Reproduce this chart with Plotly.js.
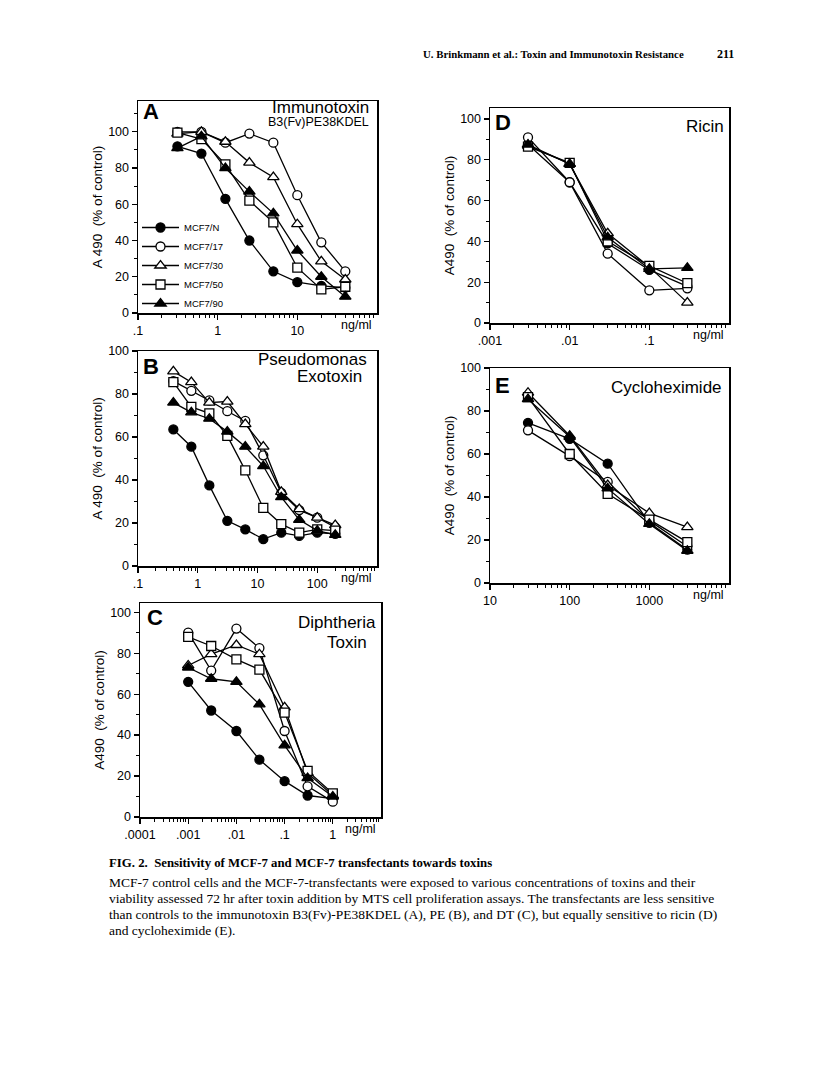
<!DOCTYPE html>
<html>
<head>
<meta charset="utf-8">
<script src="https://cdn.plot.ly/plotly-3.0.1.min.js"></script>
<style>
  html, body { margin: 0; padding: 0; background: #fff; }
  #plot { width: 816px; height: 1088px; }
</style>
</head>
<body>
<div id="plot"></div>
<script>
// ----- data -----
const lines = ['MCF7/N', 'MCF7/17', 'MCF7/30', 'MCF7/50', 'MCF7/90'];

// A: Immunotoxin B3(Fv)PE38KDEL
const dosesA = [0.3125, 0.625, 1.25, 2.5, 5, 10, 20, 40];
const itN  = [92, 88, 63, 40, 23, 17, 15, 14];
const it17 = [100, 100, 94, 99, 94, 65, 39, 23];
const it30 = [99, 100, 94.5, 83, 75, 49, 28.5, 18.5];
const it50 = [99.5, 96, 82, 62, 50, 25, 13, 14.5];
const it90 = [91, 97.5, 80, 67, 55, 34.5, 20, 9];

// B: Pseudomonas exotoxin
const dosesB = [0.390625, 0.78125, 1.5625, 3.125, 6.25, 12.5, 25, 50, 100, 200];
const peN  = [63.5, 55.5, 37.5, 21, 17, 12.5, 15.5, 14, 15.5, 15];
const pe17 = [86, 81.5, 77, 72, 67.5, 51.5, 34, 26, 22.5, 18];
const pe30 = [90.5, 85.5, 76, 76.5, 66, 55.5, 34.5, 26.5, 22.5, 19];
const pe50 = [85.5, 74, 71, 60.5, 44.5, 27, 19.5, 15.5, 17, 16.5];
const pe90 = [76, 71.5, 68.5, 62.5, 55.5, 46.5, 32, 21.5, 16.5, 14.5];

// C: Diphtheria toxin
const dosesC = [0.001, 0.003, 0.01, 0.03, 0.1, 0.3, 1];
const dtN  = [66, 52, 42, 28, 17.5, 10.5, 9];
const dt17 = [90, 71.5, 92, 82.5, 42, 15, 7.5];
const dt30 = [74, 79.5, 84, 79.5, 53.5, 21.5, 10.5];
const dt50 = [88, 83.5, 77, 72, 51, 22.5, 11.5];
const dt90 = [73, 67.5, 66, 55, 35, 19, 10];

// D: Ricin
const dosesD = [0.003, 0.01, 0.03, 0.1, 0.3];
const riN  = [87.5, 69, 39, 26, 18];
const ri17 = [91, 69, 34, 16, 17];
const ri30 = [87, 78, 44, 27.5, 10];
const ri50 = [86.5, 78.5, 40, 28, 19.5];
const ri90 = [87.5, 78, 42, 26.5, 27];

// E: Cycloheximide
const dosesE = [30, 100, 300, 1000, 3000];
const chN  = [74.5, 67, 55.5, 28, 15.5];
const ch17 = [71, 59, 47, 29, 17];
const ch30 = [88.5, 68.5, 45.5, 32.5, 26];
const ch50 = [86.5, 60, 41.5, 29.5, 19];
const ch90 = [85.5, 68, 44, 27.5, 15];

// tick labels
const ticksA = { vals: [0.1, 1, 10], text: ['.1', '1', '10'] };
const ticksB = { vals: [0.1, 1, 10, 100], text: ['.1', '1', '10', '100'] };
const ticksC = { vals: [0.0001, 0.001, 0.01, 0.1, 1], text: ['.0001', '.001', '.01', '.1', '1'] };
const ticksD = { vals: [0.001, 0.01, 0.1], text: ['.001', '.01', '.1'] };
const ticksE = { vals: [10, 100, 1000], text: ['10', '100', '1000'] };

// ----- layout helpers -----
const W = 816, H = 1088;
const px = (x) => x / W;
const py = (y) => 1 - y / H;
const SANS = 'Liberation Sans, Arial, sans-serif';
const SERIF = 'Liberation Serif, Times New Roman, serif';

// marker style per cell line: symbol + filled/open
const styles = [
  { symbol: 'circle', fill: '#000' },
  { symbol: 'circle', fill: '#fff' },
  { symbol: 'triangle-up', fill: '#fff' },
  { symbol: 'square', fill: '#fff' },
  { symbol: 'triangle-up', fill: '#000' },
];

function panelTraces(n, doses, series, legend) {
  return series.map((ys, i) => ({
    x: doses, y: ys, xaxis: 'x' + (n > 1 ? n : ''), yaxis: 'y' + (n > 1 ? n : ''),
    type: 'scatter', mode: 'lines+markers', name: lines[i],
    showlegend: legend, legendgroup: 'g' + i,
    line: { color: '#000', width: 1.3 },
    marker: {
      symbol: styles[i].symbol, color: styles[i].fill,
      size: styles[i].symbol === 'triangle-up' ? 10 : 9,
      line: { color: '#000', width: 1.3 }
    },
    cliponaxis: false
  }));
}

function minorLog(lo, hi) {
  const out = [];
  for (let d = lo; d < hi; d++)
    for (let k = 2; k <= 9; k++) out.push(k * 10 ** d);
  return out;
}

function xAxis(left, right, lo, hi, ticks, anchor) {
  return {
    type: 'log', domain: [px(left), px(right)], range: [lo, hi], anchor,
    tickmode: 'array', tickvals: ticks.vals, ticktext: ticks.text,
    ticks: 'outside', ticklen: 5, tickwidth: 1.2, tickcolor: '#000',
    minor: { tickmode: 'array', tickvals: minorLog(lo, hi), ticks: 'outside', ticklen: 3, tickwidth: 1, tickcolor: '#000', showgrid: false },
    showline: true, linecolor: '#000', linewidth: 1.5, mirror: true,
    showgrid: false, zeroline: false,
    tickfont: { family: SANS, size: 12.5, color: '#000' }
  };
}

function yAxis(top, bottom, hi, title, anchor) {
  return {
    domain: [py(bottom), py(top)], range: [0, hi], anchor,
    tickmode: 'array', tickvals: [0, 20, 40, 60, 80, 100],
    ticks: 'outside', ticklen: 5, tickwidth: 1.2, tickcolor: '#000',
    minor: { dtick: 10, tick0: 0, ticks: 'outside', ticklen: 3, tickwidth: 1, tickcolor: '#000', showgrid: false },
    showline: true, linecolor: '#000', linewidth: 1.5, mirror: true,
    showgrid: false, zeroline: false,
    tickfont: { family: SANS, size: 12.5, color: '#000' },
    title: { text: title, font: { family: SANS, size: 13.5, color: '#000' }, standoff: 2 }
  };
}

const traces = [
  ...panelTraces(1, dosesA, [itN, it17, it30, it50, it90], true),
  ...panelTraces(2, dosesB, [peN, pe17, pe30, pe50, pe90], false),
  ...panelTraces(3, dosesC, [dtN, dt17, dt30, dt50, dt90], false),
  ...panelTraces(4, dosesD, [riN, ri17, ri30, ri50, ri90], false),
  ...panelTraces(5, dosesE, [chN, ch17, ch30, ch50, ch90], false),
];

// text helpers
const txt = (x, y, text, size, opts = {}) => Object.assign({
  xref: 'paper', yref: 'paper', x: px(x), y: py(y), text, showarrow: false,
  xanchor: 'right', yanchor: 'middle',
  font: { family: SANS, size, color: '#000' }
}, opts);
const unit = (n) => ({
  xref: 'x' + (n > 1 ? n : '') + ' domain', yref: 'y' + (n > 1 ? n : '') + ' domain',
  x: 1, y: 0, xanchor: 'right', yanchor: 'top', xshift: -3, yshift: -3,
  text: 'ng/ml', showarrow: false, font: { family: SANS, size: 12.5, color: '#000' }
});
const letter = (x, y, t) => txt(x, y, '<b>' + t + '</b>', 22, { xanchor: 'left' });
const serif = (x, y, text, size, bold) => txt(x, y, bold ? '<b>' + text + '</b>' : text, size,
  { xanchor: 'left', font: { family: SERIF, size, color: '#000' } });

const annotations = [
  // panel titles
  txt(371, 107, 'Immunotoxin', 17), txt(371, 122, 'B3(Fv)PE38KDEL', 12.5),
  txt(369, 360, 'Pseudomonas', 17), txt(364, 377, 'Exotoxin', 17),
  txt(378, 622, 'Diphtheria', 17), txt(369, 642, 'Toxin', 17),
  txt(726, 127, 'Ricin', 17),
  txt(724, 387, 'Cycloheximide', 17),
  // panel letters
  letter(141, 112, 'A'), letter(141, 366, 'B'), letter(145, 617, 'C'),
  letter(493, 122, 'D'), letter(493, 385, 'E'),
  unit(1), unit(2), unit(3), unit(4), unit(5),
  // running head
  txt(686, 54, '<b>U. Brinkmann et al.: Toxin and Immunotoxin Resistance</b>', 10.8, { font: { family: SERIF, size: 10.8, color: '#000' } }),
  txt(736, 54, '<b>211</b>', 12, { font: { family: SERIF, size: 12, color: '#000' } }),
  // caption
  serif(107, 863, 'FIG. 2.&nbsp;&nbsp;Sensitivity of MCF-7 and MCF-7 transfectants towards toxins', 12.8, true),
  serif(107, 882, 'MCF-7 control cells and the MCF-7-transfectants were exposed to various concentrations of toxins and their', 13.5),
  serif(107, 898, 'viability assessed 72 hr after toxin addition by MTS cell proliferation assays. The transfectants are less sensitive', 13.5),
  serif(107, 914, 'than controls to the immunotoxin B3(Fv)-PE38KDEL (A), PE (B), and DT (C), but equally sensitive to ricin (D)', 13.5),
  serif(107, 930, 'and cycloheximide (E).', 13.5),
];

const layout = {
  width: W, height: H, margin: { l: 0, r: 0, t: 0, b: 0 },
  paper_bgcolor: '#fff', plot_bgcolor: 'rgba(0,0,0,0)',
  showlegend: true,
  legend: {
    x: px(137), y: py(213), xanchor: 'left', yanchor: 'top',
    bgcolor: 'rgba(0,0,0,0)', borderwidth: 0, tracegroupgap: 0,
    itemwidth: 37, traceorder: 'normal',
    font: { family: 'Liberation Sans Narrow, Arial Narrow, ' + SANS, size: 9.5, color: '#000' }
  },
  xaxis: xAxis(138, 377, -1, 2, ticksA, 'y'),
  yaxis: yAxis(101, 313, 117, 'A 490  (% of control)', 'x'),
  xaxis2: xAxis(138, 377, -1, 3, ticksB, 'y2'),
  yaxis2: yAxis(351, 566, 100, 'A 490  (% of control)', 'x2'),
  xaxis3: xAxis(140, 381, -4, 1, ticksC, 'y3'),
  yaxis3: yAxis(603, 817, 104.5, 'A490  (% of control)', 'x3'),
  xaxis4: xAxis(490, 729, -3, 0, ticksD, 'y4'),
  yaxis4: yAxis(108, 323, 105.4, 'A490  (% of control)', 'x4'),
  xaxis5: xAxis(490, 729, 1, 4, ticksE, 'y5'),
  yaxis5: yAxis(368, 583, 100, 'A490  (% of control)', 'x5'),
  annotations
};

Plotly.newPlot('plot', traces, layout, { staticPlot: true, displayModeBar: false });
</script>
</body>
</html>
